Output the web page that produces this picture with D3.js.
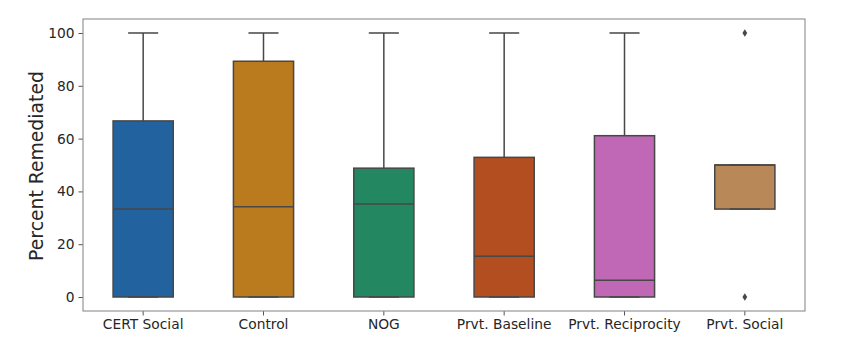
<!DOCTYPE html>
<html><head><meta charset="utf-8">
<script src="https://cdn.jsdelivr.net/npm/d3@7"></script>
<style>body{margin:0;background:#fff}svg{display:block}</style>
</head><body>
<svg id="c" width="857" height="353"></svg>
<script>
const categories = ["CERT Social","Control","NOG","Prvt. Baseline","Prvt. Reciprocity","Prvt. Social"];
const q1Values     = [0, 0, 0, 0, 0, 33.3];
const medianValues = [33.3, 34.2, 35.2, 15.4, 6.3, 50];
const q3Values     = [66.7, 89.3, 48.8, 52.9, 61.1, 50];
const whiskerLow   = [0, 0, 0, 0, 0, 33.3];
const whiskerHigh  = [100, 100, 100, 100, 100, 50];
const outlierValues = [[], [], [], [], [], [100, 0]];
const yTicks = [0, 20, 40, 60, 80, 100];
const boxColors = ["#22629f","#b97b1e","#238861","#b34e20","#c067b6","#b88858"];

const svg = d3.select("#c");
const m = {l:83, r:805, t:19, b:311};
const x = d3.scaleBand().domain(categories).range([m.l, m.r]).padding(0);
const y = d3.scaleLinear().domain([-5.3, 105.3]).range([m.b, m.t]);
const boxW = x.bandwidth()*0.5;
const lineCol = "#474747";

// axes
const yAxis = d3.axisLeft(y).tickValues(yTicks).tickSize(4.5).tickPadding(4);
const gy = svg.append("g").attr("transform", `translate(${m.l},0)`).call(yAxis);
const xAxis = d3.axisBottom(x).tickSize(4.5).tickPadding(4);
const gx = svg.append("g").attr("transform", `translate(0,${m.b})`).call(xAxis);
[gx, gy].forEach(g => {
  g.select(".domain").remove();
  g.selectAll(".tick line").attr("stroke", "#555").attr("stroke-width", 1);
  g.selectAll(".tick text").attr("fill", "#262626").attr("font-family", "DejaVu Sans").attr("font-size", 13.8);
});

// frame
svg.append("rect").attr("x", m.l).attr("y", m.t).attr("width", m.r-m.l).attr("height", m.b-m.t)
  .attr("fill", "none").attr("stroke", "#8c8c8c").attr("stroke-width", 1.1);

svg.append("text").attr("transform", `translate(43,${(m.t+m.b)/2 + 1}) rotate(-90)`)
  .attr("text-anchor", "middle").attr("font-family", "DejaVu Sans").attr("font-size", 18.8)
  .attr("fill", "#262626").text("Percent Remediated");

const g = svg.append("g");
categories.forEach((c, i) => {
  const cx = x(c) + x.bandwidth()/2;
  const gg = g.append("g");
  gg.append("line").attr("x1", cx).attr("x2", cx).attr("y1", y(q3Values[i])).attr("y2", y(whiskerHigh[i]))
    .attr("stroke", lineCol).attr("stroke-width", 1.5);
  gg.append("line").attr("x1", cx).attr("x2", cx).attr("y1", y(q1Values[i])).attr("y2", y(whiskerLow[i]))
    .attr("stroke", lineCol).attr("stroke-width", 1.5);
  gg.append("rect").attr("x", cx-boxW/2).attr("width", boxW)
    .attr("y", y(q3Values[i])).attr("height", y(q1Values[i]) - y(q3Values[i]))
    .attr("fill", boxColors[i]).attr("stroke", lineCol).attr("stroke-width", 1.5);
  [whiskerHigh[i], whiskerLow[i]].forEach(v => {
    gg.append("line").attr("x1", cx-boxW/4).attr("x2", cx+boxW/4).attr("y1", y(v)).attr("y2", y(v))
      .attr("stroke", lineCol).attr("stroke-width", 1.5);
  });
  gg.append("line").attr("x1", cx-boxW/2).attr("x2", cx+boxW/2).attr("y1", y(medianValues[i])).attr("y2", y(medianValues[i]))
    .attr("stroke", lineCol).attr("stroke-width", 1.5);
  outlierValues[i].forEach(v => {
    const py = y(v);
    gg.append("path").attr("d", `M${cx},${py-3.8}L${cx+2.4},${py}L${cx},${py+3.8}L${cx-2.4},${py}Z`)
      .attr("fill", lineCol);
  });
});
</script>
</body></html>
